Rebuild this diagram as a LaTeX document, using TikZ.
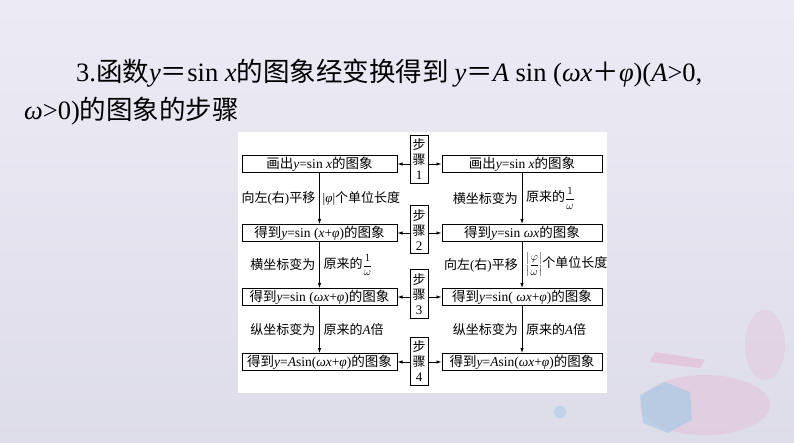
\documentclass[tikz,border=0pt]{standalone}
\usepackage{fontspec}
\setmainfont{Noto Sans CJK SC}
\newfontfamily\tm{Liberation Serif}
\usetikzlibrary{arrows.meta,positioning,calc}
\newcommand{\itv}[1]{{\tm\itshape #1}}
\newcommand{\rmt}[1]{{\tm #1}}
\newcommand{\smfrac}[2]{{\fontsize{10.5}{12}\selectfont$\displaystyle\frac{#1}{#2}$}}
\definecolor{bgtop}{HTML}{ECEBF5}
\definecolor{bgbot}{HTML}{DDDCE9}
\definecolor{splash}{HTML}{E9A6C6}
\definecolor{hexblue}{HTML}{93C6E6}

\tikzset{
	box/.style={draw, line width=1pt, minimum width=155pt, minimum height=17pt, inner sep=0pt, font=\fontsize{13.5}{15}\selectfont},
	wbox/.style={box, minimum width=160pt},
	stepbox/.style={draw, line width=1pt, minimum width=18pt, minimum height=48pt, inner sep=1pt, align=center, font=\fontsize{13}{15}\selectfont},
	lbl/.style={inner sep=0pt, font=\fontsize{13}{15}\selectfont},
	arr/.style={line width=0.8pt, -{Latex[length=5pt,width=3.5pt]}},
}

\begin{document}
\begin{tikzpicture}[x=1pt,y=-1pt]
	\useasboundingbox (0,0) rectangle (794,443);
	% background
	\shade[top color=bgtop, bottom color=bgbot] (0,0) rectangle (794,443);
	\fill[splash, opacity=0.25] (705,405) ellipse (65 and 30);
	\fill[splash, opacity=0.2] (765,345) ellipse (20 and 35);
	\fill[splash, opacity=0.4] (655,352) -- (705,360) -- (700,368) -- (650,362) -- cycle;
	\fill[hexblue, opacity=0.5] (640,395) -- (665,382) -- (690,392) -- (692,420) -- (668,433) -- (643,423) -- cycle;
	\fill[hexblue, opacity=0.4] (560,412) circle (6);
	
	% title
	\node[anchor=base west, inner sep=0pt, font=\fontsize{26.5}{30}\selectfont] (title1) at (76,82)
		{\rmt{3.}函数\itv{y}＝\rmt{sin }\itv{x}的图象经变换得到 \itv{y}＝\itv{A}\rmt{ sin (}\itv{ωx}＋\itv{φ}\rmt{)(}\itv{A}\rmt{>0,}};
	\node[anchor=base west, inner sep=0pt, font=\fontsize{26.5}{30}\selectfont] (title2) at (24,120)
		{\itv{ω}\rmt{>0)}的图象的步骤};
	
	% panel
	\fill[white] (238,132) rectangle (607,393);
	
	% left column
	\node[box] (b1l) at (319.5,164) {画出\itv{y}\rmt{=sin }\itv{x}的图象};
	\node[box] (b2l) at (319.5,233) {得到\itv{y}\rmt{=sin (}\itv{x}\rmt{+}\itv{φ}\rmt{)}的图象};
	\node[box] (b3l) at (319.5,297) {得到\itv{y}\rmt{=sin (}\itv{ωx}\rmt{+}\itv{φ}\rmt{)}的图象};
	\node[box] (b4l) at (319.5,362) {得到\itv{y}\rmt{=}\itv{A}\rmt{sin(}\itv{ωx}\rmt{+}\itv{φ}\rmt{)}的图象};
	
	% right column
	\node[wbox] (b1r) at (522,164) {画出\itv{y}\rmt{=sin }\itv{x}的图象};
	\node[wbox] (b2r) at (522,233) {得到\itv{y}\rmt{=sin }\itv{ωx}的图象};
	\node[wbox] (b3r) at (522,297) {得到\itv{y}\rmt{=sin( }\itv{ωx}\rmt{+}\itv{φ}\rmt{)}的图象};
	\node[wbox] (b4r) at (522,362) {得到\itv{y}\rmt{=}\itv{A}\rmt{sin(}\itv{ωx}\rmt{+}\itv{φ}\rmt{)}的图象};
	
	% steps
	\foreach \i/\y in {1/159.5, 2/230, 3/294, 4/361}
	{
		\node[stepbox] (s\i) at (419,\y) {步\\骤\\\rmt{\i}};
		\draw[arr] (s\i.west |- b\i l.east) -- (b\i l.east);
		\draw[arr] (s\i.east |- b\i r.west) -- (b\i r.west);
	}
	
	% vertical arrows
	\foreach \i/\j in {1/2, 2/3, 3/4}
	{
		\draw[arr] (b\i l) -- (b\j l);
		\draw[arr] (b\i r) -- (b\j r);
		\coordinate (m\i l) at ($(b\i l.south)!0.5!(b\j l.north)$);
		\coordinate (m\i r) at ($(b\i r.south)!0.5!(b\j r.north)$);
	}
	
	% labels
	\node[lbl, left=4pt of m1l] (l1a) {向左\rmt{(}右\rmt{)}平移};
	\node[lbl, right=3pt of m1l] (l1b) {\rmt{|}\itv{φ}\rmt{|}个单位长度};
	\node[lbl, left=4pt of m2l] (l2a) {横坐标变为};
	\node[lbl, right=4pt of m2l] (l2b) {原来的\smfrac{1}{\omega}};
	\node[lbl, left=4pt of m3l] (l3a) {纵坐标变为};
	\node[lbl, right=4pt of m3l] (l3b) {原来的\itv{A}倍};
	
	\node[lbl, left=4pt of m1r] (r1a) {横坐标变为};
	\node[lbl, right=4pt of m1r] (r1b) {原来的\smfrac{1}{\omega}};
	\node[lbl, left=4pt of m2r] (r2a) {向左\rmt{(}右\rmt{)}平移};
	\node[lbl, right=4pt of m2r] (r2b) {{\fontsize{10.5}{12}\selectfont$\left|\displaystyle\frac{\varphi}{\omega}\right|$}个单位长度};
	\node[lbl, left=4pt of m3r] (r3a) {纵坐标变为};
	\node[lbl, right=4pt of m3r] (r3b) {原来的\itv{A}倍};
\end{tikzpicture}
\end{document}
